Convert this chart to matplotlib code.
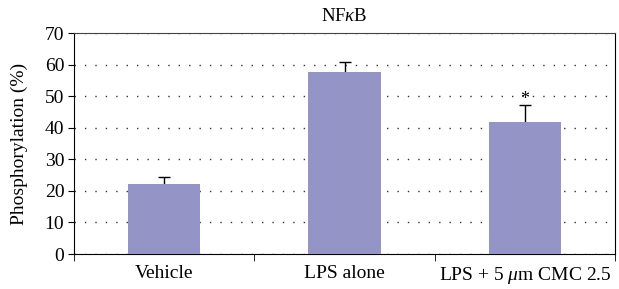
import numpy as np
import matplotlib.pyplot as plt

plt.rcParams['font.family'] = ['Liberation Serif', 'DejaVu Serif']
plt.rcParams['mathtext.fontset'] = 'custom'
plt.rcParams['mathtext.rm'] = 'Liberation Serif'
plt.rcParams['mathtext.it'] = 'Liberation Serif:italic'

# data
groups = ['Vehicle', 'LPS alone', r'LPS + 5 $\mathit{\mu}$m CMC 2.5']
values = [22.1, 57.6, 41.7]
errors = [2.3, 3.1, 5.4]
signif = ['', '', '*']

fig = plt.figure(figsize=(6.19, 2.89), dpi=100)
ax = fig.add_axes([0.1196, 0.1211, 0.874, 0.7647])

x = np.arange(len(groups))
# lower half of each error bar sits behind the bar
ax.errorbar(x, values, yerr=errors, fmt='none',
            ecolor='black', elinewidth=1, capsize=4, capthick=1, zorder=2)
ax.bar(x, values, width=0.4, color='#9494c6', zorder=3)
for xi, v, e, s in zip(x, values, errors, signif):
    if s:
        ax.text(xi, v + e - 1.0, s, ha='center', va='bottom', fontsize=13)

ax.set_xlim(-0.5, len(groups) - 0.5)
ax.set_ylim(0, 70)
ax.set_yticks(range(0, 71, 10))
ax.set_xticks(x)
ax.set_xticklabels(groups)
ax.tick_params(axis='x', length=0, labelsize=14, pad=8)
ax.set_xticks(np.arange(-0.5, len(groups)), minor=True)
ax.tick_params(axis='x', which='minor', length=5, direction='out')
ax.tick_params(axis='y', length=4, labelsize=14, direction='out', pad=3)

ax.yaxis.grid(True, linestyle=(0, (1, 6.5)), color='#333333', linewidth=1, zorder=0)
ax.spines['top'].set_color('#444444')
ax.set_ylabel('Phosphorylation (%)', fontsize=14, labelpad=12)
ax.set_title(r'NF$\mathit{\kappa}$B', fontsize=13.5, pad=9)

fig.savefig('out.png', dpi=100)
